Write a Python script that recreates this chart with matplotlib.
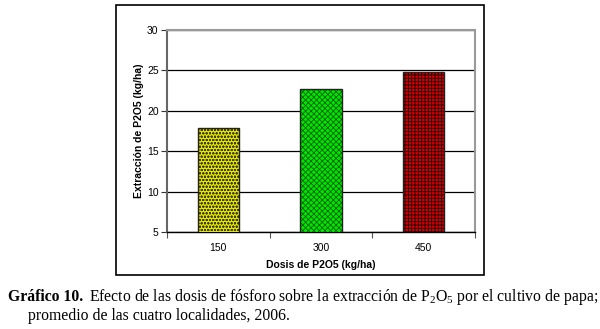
import numpy as np
import matplotlib
matplotlib.use("Agg")
import matplotlib.pyplot as plt
from matplotlib.patches import Rectangle

# data
dosis = ["150", "300", "450"]
extraccion = [17.9, 22.7, 24.8]
colores = ["#e8e800", "#00e600", "#d40000"]
tramas = ["ooooo", "xxxxxx", "+++++"]
trama_col = ["#404000", "#006000", "#200000"]
yticks = [5, 10, 15, 20, 25, 30]

plt.rcParams['font.family'] = ['Liberation Sans', 'DejaVu Sans']
plt.rcParams['mathtext.fontset'] = 'custom'
plt.rcParams['mathtext.rm'] = 'Liberation Serif'
plt.rcParams['hatch.linewidth'] = 0.6

fig = plt.figure(figsize=(6, 3.29), dpi=100)
ax = fig.add_axes([0.2783, 0.2948, 0.5134, 0.614])

x = np.arange(len(dosis))
ax.bar(x, extraccion, width=0.4, bottom=0, color=colores, hatch=tramas,
       edgecolor=trama_col, linewidth=0, zorder=3)
ax.bar(x, extraccion, width=0.4, bottom=0, fill=False,
       edgecolor="#222222", linewidth=1.0, zorder=4)

ax.set_xlim(-0.5, len(dosis) - 0.5)
ax.set_ylim(5, 30)
ax.set_yticks(yticks)
ax.set_yticklabels([str(v) for v in yticks], fontsize=7.5)
ax.yaxis.grid(True, color="black", linewidth=0.9, zorder=1)
ax.set_axisbelow(True)

ax.set_xticks(x)
ax.set_xticklabels(dosis, fontsize=7.5)
ax.set_xticks(np.arange(len(dosis) + 1) - 0.5, minor=True)
ax.tick_params(axis='x', which='major', length=0, pad=8)
ax.tick_params(axis='x', which='minor', length=4, width=0.8, color="#555555")
ax.tick_params(axis='y', length=4, width=0.8, pad=2, color="#333333")

for s in ['top', 'right']:
    ax.spines[s].set_color("#999999")
    ax.spines[s].set_linewidth(1.5)
ax.spines['left'].set_color("#666666")
ax.spines['left'].set_linewidth(1.5)
ax.spines['bottom'].set_color("black")
ax.spines['bottom'].set_linewidth(1.0)

ax.set_xlabel("Dosis de P2O5 (kg/ha)", fontsize=7.5, fontweight='bold', labelpad=5)
ax.set_ylabel("Extracción de P2O5 (kg/ha)", fontsize=7.5, fontweight='bold', labelpad=2)

# outer chart frame
fig.patches.append(Rectangle((0.1933, 0.1641), 0.6133, 0.8207, transform=fig.transFigure,
                             fill=False, edgecolor="black", linewidth=1.2))

# caption
serif = ['Liberation Serif', 'DejaVu Serif']
t1 = fig.text(8 / 600, 1 - 301 / 329, "Gráfico 10.", fontsize=11.3, fontweight='bold',
              family=serif, va='baseline')
fig.canvas.draw()
bb = t1.get_window_extent()
x2 = (bb.x1 + 6) / fig.bbox.width
fig.text(x2, 1 - 301 / 329,
         r"Efecto de las dosis de fósforo sobre la extracción de $\mathregular{P_2O_5}$ por el cultivo de papa;",
         fontsize=11.3, family=serif, va='baseline')
fig.text(28 / 600, 1 - 320 / 329, "promedio de las cuatro localidades, 2006.",
         fontsize=11.3, family=serif, va='baseline')

fig.savefig("out.png", dpi=100)
